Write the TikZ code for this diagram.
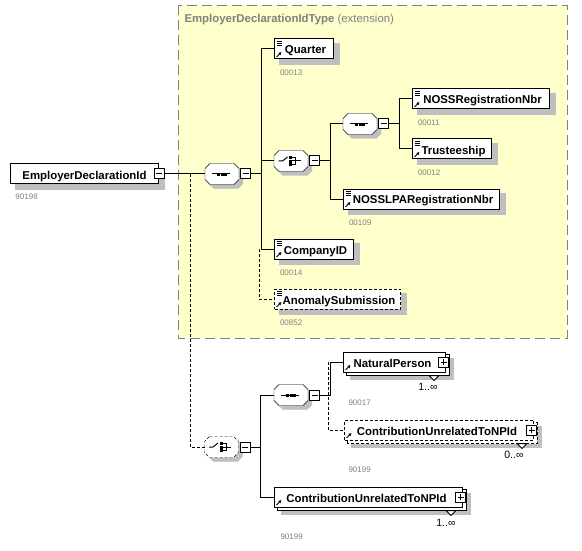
\documentclass[tikz,border=0pt]{standalone}
\usepackage{fontspec}
\setmainfont{Liberation Sans}
\usetikzlibrary{positioning,backgrounds,arrows.meta}

\definecolor{extyellow}{RGB}{255,255,204}
\definecolor{idgray}{RGB}{128,128,128}

\tikzset{
  elembox/.style={draw,fill=white,anchor=west,minimum height=20pt,inner sep=0pt,
    text height=10pt,text depth=0pt,font=\fontsize{11.4}{13}\selectfont\bfseries},
  optline/.style={dash pattern=on 3pt off 2pt},
  shadowfill/.style={draw=black!25,fill=black!25,line width=0.4pt},
  iconpad/.style={execute at begin node=\hspace*{3pt}},
  pluspad/.style={execute at begin node=\hspace*{-4pt}},
  simpleicon/.style={path picture={
      \draw[solid] ([shift={(2pt,-2.5pt)}]path picture bounding box.north west) -- +(5pt,0pt)
        ++(0pt,-2pt) -- +(5pt,0pt) ++(0pt,-2pt) -- +(5pt,0pt);
      \draw[solid,-{Latex[length=3pt,width=3.5pt,fill=black]}] ([shift={(2pt,2pt)}]path picture bounding box.south west) -- +(5pt,5pt);}},
  reficon/.style={path picture={
      \draw[solid,-{Latex[length=3pt,width=3.5pt,fill=black]}] ([shift={(2pt,2pt)}]path picture bounding box.south west) -- +(5pt,5pt);}},
  minusbox/.style={draw,solid,fill=white,minimum size=10pt,inner sep=0pt,path picture={
      \draw ([xshift=2pt]path picture bounding box.west) -- ([xshift=-2pt]path picture bounding box.east);}},
  plusbox/.style={draw,solid,fill=white,minimum size=10pt,inner sep=0pt,path picture={
      \draw ([xshift=2pt]path picture bounding box.west) -- ([xshift=-2pt]path picture bounding box.east);
      \draw ([yshift=2pt]path picture bounding box.south) -- ([yshift=-2pt]path picture bounding box.north);}},
  compositor/.style={minimum width=34pt,minimum height=21pt,inner sep=0pt,outer sep=0pt}
}

\begin{document}
\begin{tikzpicture}[x=1pt,y=-1pt,line width=1pt,
    idlabel/.style={inner sep=0pt,text=idgray,font=\fontsize{8}{9}\selectfont},
    mult/.style={inner sep=0pt,font=\fontsize{10.5}{12}\selectfont}]
  \useasboundingbox (0,0) rectangle (582,551);
  \node[anchor=west,inner sep=0pt,text=idgray,font=\fontsize{11.4}{13}\selectfont] (exttitle) at (184,20)
    {\textbf{EmployerDeclarationIdType} (extension)};

  \node[elembox,minimum width=148pt] (empdecl) at (10,174) {EmployerDeclarationId};
  \node[minusbox] (empdeclm) at (empdecl.east) {};
  \node[idlabel,below right=9pt and 5pt of empdecl.south west] (empdeclid) {90198};

  \node[compositor] (seq1) at (222,174) {};
  \node[minusbox,right=1pt of seq1] (seq1m) {};
  \node[compositor] (choice1) at (291,161) {};
  \node[minusbox,right=1pt of choice1] (choice1m) {};
  \node[compositor] (seq2) at (360,124) {};
  \node[minusbox,right=1pt of seq2] (seq2m) {};

  \node[elembox,simpleicon,iconpad,minimum width=59pt] (quarter) at (274,49) {Quarter};
  \node[idlabel,below right=10pt and 5.5pt of quarter.south west] (quarterid) {00013};
  \node[elembox,simpleicon,iconpad,minimum width=137pt] (nossreg) at (412,99) {NOSSRegistrationNbr};
  \node[idlabel,below right=10pt and 5.5pt of nossreg.south west] (nossregid) {00011};
  \node[elembox,simpleicon,iconpad,minimum width=79pt] (trustee) at (412,149) {Trusteeship};
  \node[idlabel,below right=10pt and 5.5pt of trustee.south west] (trusteeid) {00012};
  \node[elembox,simpleicon,iconpad,minimum width=156pt] (nosslpa) at (343,199) {NOSSLPARegistrationNbr};
  \node[idlabel,below right=10pt and 5.5pt of nosslpa.south west] (nosslpaid) {00109};
  \node[elembox,simpleicon,iconpad,minimum width=79pt] (company) at (274,249) {CompanyID};
  \node[idlabel,below right=10pt and 5.5pt of company.south west] (companyid) {00014};
  \node[elembox,optline,simpleicon,iconpad,minimum width=126pt] (anomaly) at (274,299) {AnomalySubmission};
  \node[idlabel,below right=10pt and 5.5pt of anomaly.south west] (anomalyid) {00852};

  \node[compositor] (choice2) at (221.5,447) {};
  \node[minusbox,right=1pt of choice2] (choice2m) {};
  \node[compositor] (seq3) at (291,395) {};
  \node[minusbox,right=1pt of seq3] (seq3m) {};

  \node[elembox,reficon,pluspad,minimum width=102pt] (natperson) at (343,362) {NaturalPerson};
  \node[plusbox] (natpersonp) at ([xshift=-2.5pt]natperson.east) {};
  \node[mult,below left=10pt and 8pt of natperson.south east] (natpersonn) {1..∞};
  \node[idlabel,below right=27pt and 5pt of natperson.south west] (natpersonid) {90017};
  \node[elembox,optline,reficon,pluspad,minimum width=189pt] (contribopt) at (344,430) {ContributionUnrelatedToNPId};
  \node[plusbox] (contriboptp) at ([xshift=-2.5pt]contribopt.east) {};
  \node[mult,below left=10pt and 10pt of contribopt.south east] (contriboptn) {0..∞};
  \node[idlabel,below right=26pt and 4pt of contribopt.south west] (contriboptid) {90199};
  \node[elembox,reficon,pluspad,minimum width=188pt] (contrib) at (274,497) {ContributionUnrelatedToNPId};
  \node[plusbox] (contribp) at ([xshift=-2.5pt]contrib.east) {};
  \node[mult,below left=11pt and 7pt of contrib.south east] (contribn) {1..∞};
  \node[idlabel,below right=26pt and 6pt of contrib.south west] (contribid) {90199};

  \begin{scope}[on background layer]
    \draw[idgray,dash pattern=on 10pt off 5pt,fill=extyellow] (178,5) rectangle (567,338);
    \foreach \n in {empdecl,quarter,nossreg,trustee,nosslpa,company,anomaly}
      \draw[shadowfill,transform canvas={shift={(5pt,-5pt)}}] (\n.south west) rectangle (\n.north east);
    \foreach \n/\s in {natperson/solid,contribopt/optline,contrib/solid} {
      \draw[shadowfill,transform canvas={shift={(7pt,-7pt)}}] (\n.south west) rectangle (\n.north east);
      \draw[\s,fill=white] ([shift={(3pt,-3pt)}]\n.south west) rectangle ([shift={(3pt,-3pt)}]\n.north east);
    }
    \foreach \n/\s in {seq1/solid,choice1/solid,seq2/solid,choice2/optline,seq3/solid} {
      \draw[shadowfill,transform canvas={shift={(4pt,-4pt)}}] ([xshift=5pt]\n.north west) -- ([xshift=-5pt]\n.north east)
        -- ([yshift=-5pt]\n.north east) -- ([yshift=5pt]\n.south east) -- ([xshift=-5pt]\n.south east)
        -- ([xshift=5pt]\n.south west) -- ([yshift=5pt]\n.south west) -- ([yshift=-5pt]\n.north west) -- cycle;
      \draw[\s,fill=white] ([xshift=5pt]\n.north west) -- ([xshift=-5pt]\n.north east)
        -- ([yshift=-5pt]\n.north east) -- ([yshift=5pt]\n.south east) -- ([xshift=-5pt]\n.south east)
        -- ([xshift=5pt]\n.south west) -- ([yshift=5pt]\n.south west) -- ([yshift=-5pt]\n.north west) -- cycle;
    }
  \end{scope}

  \foreach \n in {seq1,seq2,seq3} {
    \draw ([xshift=-10pt]\n.center) -- ([xshift=8pt]\n.center);
    \foreach \dx in {-3.3,0,3.3}
      \draw[fill=black,line width=0.6pt] ([shift={(\dx pt-1pt,-1pt)}]\n.center) rectangle +(2pt,2pt);
  }
  \foreach \n in {choice1,choice2} {
    \draw ([xshift=-12.5pt]\n.center) -- ([xshift=-8.5pt]\n.center) -- ([shift={(-3.5pt,4pt)}]\n.center);
    \foreach \dy in {3.5,0,-3.5}
      \draw[fill=black,line width=0.6pt] ([shift={(-1.5pt,\dy pt-1pt)}]\n.center) rectangle +(2pt,2pt);
    \draw ([shift={(1pt,3.5pt)}]\n.center) -- ++(3.5pt,0pt) -- ++(0pt,-7pt) -- ++(-3.5pt,0pt);
    \draw ([xshift=1pt]\n.center) -- ++(8.5pt,0pt);
  }
  \foreach \n in {natperson,contribopt,contrib}
    \draw[fill=white] ([shift={(-17pt,-3pt)}]\n.south east) -- ++(10pt,0pt) -- ++(-5pt,-5pt) -- cycle;

  \coordinate (fork) at (190,174);
  \draw (empdeclm.east) -- (seq1.west);
  \draw[optline] (fork) |- (choice2.west);
  \draw (seq1m.east) -- +(10,0) |- (quarter.west);
  \draw (seq1m.east) -- +(10,0) |- (choice1.west);
  \draw (seq1m.east) -- +(10,0) |- (company.west);
  \draw[optline] (company.west) -- +(-15,0) |- (anomaly.west);
  \draw (choice1m.east) -- +(10,0) |- (seq2.west);
  \draw (choice1m.east) -- +(10,0) |- (nosslpa.west);
  \draw (seq2m.east) -- +(10,0) |- (nossreg.west);
  \draw (seq2m.east) -- +(10,0) |- (trustee.west);
  \draw (choice2m.east) -- +(10,0) |- (seq3.west);
  \draw (choice2m.east) -- +(10,0) |- (contrib.west);
  \draw (seq3m.east) -- +(10,0) |- (natperson.west);
  \draw[optline] (natperson.west) -- +(-15,0) |- (contribopt.west);
\end{tikzpicture}
\end{document}
